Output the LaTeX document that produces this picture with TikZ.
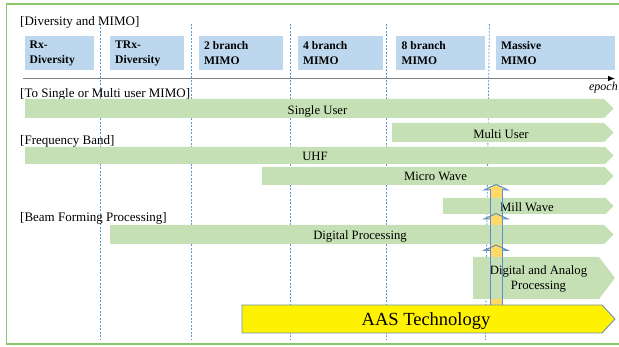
\documentclass[tikz,border=0pt]{standalone}
\usepackage{fontspec}
\setmainfont{Liberation Serif}
\usetikzlibrary{arrows.meta}
\definecolor{boxblue}{HTML}{BDD7EE}
\definecolor{bandgreen}{HTML}{C5E0B4}
\definecolor{framegreen}{HTML}{8CC66A}
\definecolor{divblue}{HTML}{5B9BD5}
\definecolor{axisgray}{HTML}{808080}
\definecolor{gold}{HTML}{FFD966}
\definecolor{shaftblue}{HTML}{5B8FCB}
\definecolor{aasedge}{HTML}{7190B8}
\begin{document}
\begin{tikzpicture}[x=1pt,y=-1pt,
  grouplabel/.style={font=\fontsize{13}{15}\selectfont, inner sep=0pt, anchor=base west},
  stagebox/.style={fill=boxblue, inner sep=0pt, minimum height=34pt, anchor=north west},
  stagetext/.style={font=\bfseries\fontsize{11.6}{14.7}\selectfont, inner sep=0pt, anchor=west, align=left},
  bandtext/.style={font=\fontsize{12.7}{15.7}\selectfont, inner sep=0pt, anchor=base},
  band/.style={fill=bandgreen},
  divider/.style={draw=divblue, line width=0.8pt, dash pattern=on 2pt off 1.5pt},
  shaft/.style={draw=shaftblue, line width=1pt},
]
\useasboundingbox (0,0) rectangle (619,347);

% frame
\draw[framegreen, line width=1.5pt] (619,4) -- (6.7,4) -- (6.7,344) -- (619,344);

% epoch dividers
\foreach \x in {100.5,191.7,290.7,386.7}
  \draw[divider] (\x,24) -- (\x,340);
\draw[divider] (489.4,24) -- (485.4,340);

% [Diversity and MIMO]
\node[grouplabel] (g1) at (20,26) {[Diversity and MIMO]};
\node[stagebox, minimum width=69pt] (rx) at (25,36) {};
\node[stagetext] (rxt) at ([xshift=4.5pt]rx.west) {Rx-\\Diversity};
\node[stagebox, minimum width=74pt] (trx) at (110,36) {};
\node[stagetext] (trxt) at ([xshift=5pt]trx.west) {TRx-\\Diversity};
\node[stagebox, minimum width=84pt] (b2) at (199,36) {};
\node[stagetext] (b2t) at ([xshift=5pt]b2.west) {2 branch\\MIMO};
\node[stagebox, minimum width=85pt] (b4) at (298,36) {};
\node[stagetext] (b4t) at ([xshift=5pt]b4.west) {4 branch\\MIMO};
\node[stagebox, minimum width=89pt] (b8) at (396,36) {};
\node[stagetext] (b8t) at ([xshift=5.5pt]b8.west) {8 branch\\MIMO};
\node[stagebox, minimum width=119pt] (mm) at (496,36) {};
\node[stagetext] (mmt) at ([xshift=5pt]mm.west) {Massive\\MIMO};

% time axis
\coordinate (axL) at (23,78.5);
\coordinate (axR) at (615,78.5);
\draw[axisgray, line width=0.8pt, -{Latex[length=7pt,width=5.5pt,color=black]}] (axL) -- (axR);
\node[font=\itshape\fontsize{12}{14}\selectfont, inner sep=0pt, anchor=base east] (ep) at (618,91) {epoch};

% [To Single or Multi user MIMO]
\node[grouplabel] (g2) at (20,97.5) {[To Single or Multi user MIMO]};
\fill[band] (25,99) -- (604,99) -- (613.5,108.5) -- (604,118) -- (25,118) -- cycle;
\node[bandtext] (su) at (317.5,114.3) {Single User};
\fill[band] (392,123) -- (604,123) -- (613.5,132.5) -- (604,142) -- (392,142) -- cycle;
\node[bandtext] (mu) at (501,138.3) {Multi User};

% [Frequency Band]
\node[grouplabel] (g3) at (20,145) {[Frequency Band]};
\fill[band] (25,147) -- (605,147) -- (613.5,155.5) -- (605,164) -- (25,164) -- cycle;
\node[bandtext] (uhf) at (315,160.7) {UHF};
\fill[band] (262,167) -- (604.5,167) -- (613.5,176) -- (604.5,185) -- (262,185) -- cycle;
\node[bandtext] (mw) at (435.5,181) {Micro Wave};

% upward arrows shaft fill (behind the bands)
\fill[gold] (490,189) rectangle (502,305);

\fill[band] (443,198) -- (605.5,198) -- (613.5,206) -- (605.5,214) -- (443,214) -- cycle;
\node[bandtext] (mlw) at (527,211.7) {Mill Wave};

% [Beam Forming Processing]
\node[grouplabel] (g4) at (20,221.5) {[Beam Forming Processing]};
\fill[band] (110,225) -- (604,225) -- (613.5,234.5) -- (604,244) -- (110,244) -- cycle;
\node[bandtext] (dp) at (360,239.7) {Digital Processing};
\fill[band] (473,257) -- (599,257) -- (615,278) -- (599,299) -- (473,299) -- cycle;
\node[bandtext, align=center, anchor=center] (dap) at (538.5,279) {Digital and Analog\\Processing};

% AAS technology bar
\draw[fill=yellow, draw=aasedge, line width=0.9pt]
  (242,305) -- (602,305) -- (615,319) -- (602,333) -- (242,333) -- cycle;
\node[font=\fontsize{18.5}{20}\selectfont, inner sep=0pt, anchor=base] (aas) at (426,325.5) {AAS Technology};

% upward arrow heads and shaft outline
\foreach \yt in {184.5,213.5,245}
  \filldraw[fill=gold, shaft, line join=miter]
    (490,\yt+5.5) -- (484,\yt+5.5) -- (496,\yt) -- (508,\yt+5.5) -- (502,\yt+5.5);
\draw[shaft] (490,189.5) -- (490,305);
\draw[shaft] (502,189.5) -- (502,305);
\end{tikzpicture}
\end{document}
